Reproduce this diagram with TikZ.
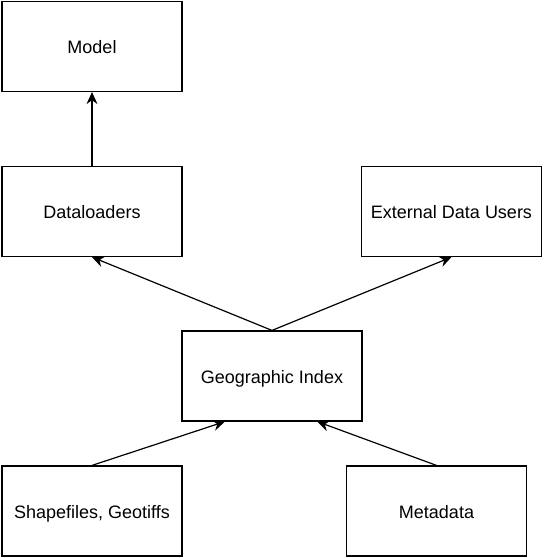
\documentclass[tikz,border=0pt]{standalone}
\usepackage{fontspec}
\setmainfont{Liberation Sans}
\usetikzlibrary{arrows.meta,calc}

\begin{document}
\begin{tikzpicture}[x=1pt,y=-1pt,
        caja/.style={draw, line width=1.2pt, rectangle, minimum width=180pt, minimum height=90pt,
                     inner sep=0pt, text height=18pt, text depth=4pt, font=\fontsize{18}{21}\selectfont},
        flecha/.style={line width=1.2pt, -{Stealth[length=12pt,width=11pt,inset=4pt]}}]
                \useasboundingbox (0,0) rectangle (544,558);

                % Cajas
                \node[caja] (model) at (92,46.5) {Model};
                \node[caja] (loaders) at (92,211.5) {Dataloaders};
                \node[caja] (external) at (451.5,211.5) {External Data Users};
                \node[caja] (geoindex) at (272,376) {Geographic Index};
                \node[caja] (shapefiles) at (92,511) {Shapefiles, Geotiffs};
                \node[caja] (metadata) at (436.5,511) {Metadata};

                % Puntos de llegada
                \coordinate (gi left) at ($(geoindex.south west)!0.24!(geoindex.south east)$);
                \coordinate (gi right) at ($(geoindex.south west)!0.75!(geoindex.south east)$);

                % Flechas
                \draw[flecha] (loaders.north) -- (model.south);
                \draw[flecha] (geoindex.north) -- (loaders.south);
                \draw[flecha] (geoindex.north) -- (external.south);
                \draw[flecha] (shapefiles.north) -- (gi left);
                \draw[flecha] (metadata.north) -- (gi right);

\end{tikzpicture}
\end{document}
